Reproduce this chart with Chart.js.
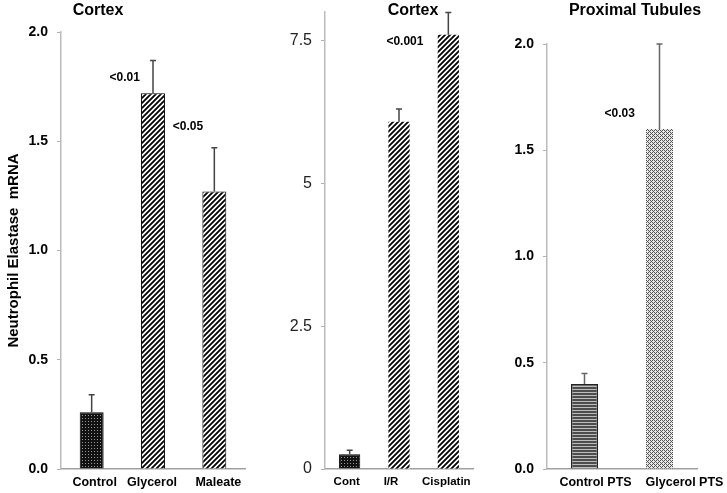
<!DOCTYPE html>
<html><head><meta charset="utf-8">
<script src="https://cdn.jsdelivr.net/npm/chart.js@4.4.1/dist/chart.umd.min.js"></script>
<style>
html,body{margin:0;padding:0;background:#fff;}
#wrap{position:relative;width:727px;height:493px;overflow:hidden;background:#fff;}
canvas{position:absolute;top:0;}
</style></head><body>
<div id="wrap">
<canvas id="c1" width="250" height="493" style="left:0px"></canvas>
<canvas id="c2" width="228" height="493" style="left:250px"></canvas>
<canvas id="c3" width="249" height="493" style="left:478px"></canvas>
</div>
<script>
// ---- data ----
const cortexCats = ['Control', 'Glycerol', 'Maleate'];
const cortexVals = [0.26, 1.72, 1.27];
const cortexErr = [0.08, 0.15, 0.20];
const cortexTicks = [0, 0.5, 1, 1.5, 2];

const cortex2Cats = ['Cont', 'I/R', 'Cisplatin'];
const cortex2Vals = [0.26, 6.08, 7.60];
const cortex2Err = [0.07, 0.22, 0.39];
const cortex2Ticks = [0, 2.5, 5, 7.5];

const ptsCats = ['Control PTS', 'Glycerol PTS'];
const ptsVals = [0.40, 1.60];
const ptsErr = [0.05, 0.40];
const ptsTicks = [0, 0.5, 1, 1.5, 2];

const titles = ['Cortex', 'Cortex', 'Proximal Tubules'];
const yTitle = 'Neutrophil Elastase  mRNA';

// ---- patterns ----
function pat(w, h, draw) {
  const c = document.createElement('canvas'); c.width = w; c.height = h;
  const g = c.getContext('2d'); draw(g); return g.createPattern(c, 'repeat');
}
const dots = pat(3, 3, g => { g.fillStyle = '#111'; g.fillRect(0,0,3,3); g.fillStyle = '#9a9a9a'; g.fillRect(1,1,1,1); });
const hatch = pat(5, 5, g => {
  g.fillStyle = '#fff'; g.fillRect(0,0,5,5);
  g.strokeStyle = '#000'; g.lineWidth = 1.8; g.beginPath();
  g.moveTo(-1,6); g.lineTo(6,-1);
  g.moveTo(-1,1); g.lineTo(1,-1);
  g.moveTo(4,6); g.lineTo(6,4);
  g.stroke();
});
const stripes = pat(1, 3, g => { g.fillStyle = '#4d4d4d'; g.fillRect(0,0,1,2); g.fillStyle = '#bdbdbd'; g.fillRect(0,2,1,1); });
const speckle = pat(4, 4, g => {
  g.fillStyle = '#e8e8e8'; g.fillRect(0,0,4,4);
  g.fillStyle = '#505050';
  [[0,0],[2,0],[1,1],[0,2],[2,2],[3,3]].forEach(p => g.fillRect(p[0],p[1],1,1));
});

const FONT = '"Liberation Sans", Arial, sans-serif';

const extras = {
  id: 'extras',
  beforeDraw(chart, args, opts) {
    const x = chart.scales.x;
    if (!opts.labelShift || typeof x.getLabelItems !== 'function') return;
    const items = x.getLabelItems(chart.chartArea);
    items.forEach((it, i) => {
      if (it && it.options && it.options.translation) it.options.translation[0] += (opts.labelShift[i] || 0);
    });
  },
  afterDatasetsDraw(chart, args, opts) {
    const ctx = chart.ctx, y = chart.scales.y, x = chart.scales.x;
    const meta = chart.getDatasetMeta(0);
    const vals = chart.data.datasets[0].data;
    ctx.save();
    ctx.strokeStyle = opts.errColor; ctx.lineWidth = 1.5;
    meta.data.forEach((bar, i) => {
      const yb = y.getPixelForValue(vals[i]);
      const yt = y.getPixelForValue(vals[i] + opts.err[i]);
      ctx.beginPath();
      ctx.moveTo(bar.x, yb); ctx.lineTo(bar.x, yt);
      ctx.moveTo(bar.x - 3, yt); ctx.lineTo(bar.x + 3, yt);
      ctx.stroke();
    });
    ctx.fillStyle = '#000'; ctx.textAlign = 'center'; ctx.textBaseline = 'middle';
    ctx.font = 'bold 12px ' + FONT;
    opts.notes.forEach(n => ctx.fillText(n.text, x.getPixelForValue(n.at), y.getPixelForValue(n.v)));
    ctx.font = 'bold 16px ' + FONT;
    ctx.fillText(opts.title, opts.titleX, opts.titleY);
    ctx.restore();
  }
};

function makeChart(id, cats, vals, cfg) {
  return new Chart(document.getElementById(id), {
    type: 'bar',
    data: { labels: cats, datasets: [{
      data: vals,
      backgroundColor: cfg.fills,
      borderColor: cfg.borders,
      borderWidth: cfg.bw,
      barPercentage: cfg.barPct,
      categoryPercentage: 1
    }]},
    options: {
      responsive: false, animation: false,
      layout: { padding: { left: 0, right: cfg.padRight, top: cfg.padTop, bottom: 0 } },
      plugins: { legend: { display: false }, tooltip: { enabled: false }, extras: cfg.extras },
      scales: {
        x: {
          grid: { drawOnChartArea: false, drawTicks: false },
          border: { display: true, color: '#a0a0a0', width: 1.5 },
          ticks: { color: '#000', font: { family: FONT, size: cfg.xFont, weight: 'bold' }, padding: 6, maxRotation: 0, autoSkip: false },
          afterFit: s => { s.height = 24; s.paddingLeft = 0; s.paddingRight = 0; }
        },
        y: {
          min: 0, max: cfg.max,
          grid: { drawOnChartArea: false, drawTicks: true, tickLength: 4, color: '#b0b0b0' },
          border: { display: true, color: '#bbbbbb', width: 1.5 },
          ticks: { color: cfg.tickColor, font: cfg.yFont, padding: 9, callback: cfg.fmt },
          afterBuildTicks: s => { s.ticks = cfg.ticks.map(v => ({ value: v })); },
          afterFit: s => { s.width = cfg.yWidth; s.paddingTop = 0; s.paddingBottom = 0; },
          title: cfg.yTitle || { display: false }
        }
      }
    },
    plugins: [extras]
  });
}

makeChart('c1', cortexCats, cortexVals, {
  fills: [dots, hatch, hatch], borders: ['#000', '#000', '#000'], bw: 1, barPct: 0.39,
  padRight: 5, padTop: 32, max: 2, ticks: cortexTicks, yWidth: 61, xFont: 12.5,
  tickColor: '#000', yFont: { family: FONT, size: 14, weight: 'bold' }, fmt: v => v.toFixed(1),
  yTitle: { display: true, text: yTitle, color: '#000', font: { family: FONT, size: 15, weight: 'bold' }, padding: { top: 5, bottom: 0 } },
  extras: { err: cortexErr, errColor: '#444', title: titles[0], titleX: 98, titleY: 11, labelShift: [3, -1, 4],
    notes: [{ text: '<0.01', at: 0.54, v: 1.79 }, { text: '<0.05', at: 1.57, v: 1.565 }] }
});

makeChart('c2', cortex2Cats, cortex2Vals, {
  fills: [dots, hatch, hatch], borders: ['#000', '#fff', '#fff'], bw: [1, 0, 0], barPct: 0.43,
  padRight: 5, padTop: 12, max: 8, ticks: cortex2Ticks, yWidth: 75, xFont: 11.5,
  tickColor: '#222', yFont: { family: FONT, size: 16 }, fmt: v => String(v),
  extras: { err: cortex2Err, errColor: '#444', title: titles[1], titleX: 163, titleY: 11, labelShift: [-3, -8, -2],
    notes: [{ text: '<0.001', at: 1.12, v: 7.48 }] }
});

makeChart('c3', ptsCats, ptsVals, {
  fills: [stripes, speckle], borders: ['#222', '#ccc'], bw: [1.5, 0], barPct: 0.36,
  padRight: 30, padTop: 44, max: 2, ticks: ptsTicks, yWidth: 69, xFont: 12.5,
  tickColor: '#000', yFont: { family: FONT, size: 14, weight: 'bold' }, fmt: v => v.toFixed(1),
  extras: { err: ptsErr, errColor: '#666', title: titles[2], titleX: 157, titleY: 11, labelShift: [11, 25],
    notes: [{ text: '<0.03', at: 0.47, v: 1.67 }] }
});
</script>
</body></html>
